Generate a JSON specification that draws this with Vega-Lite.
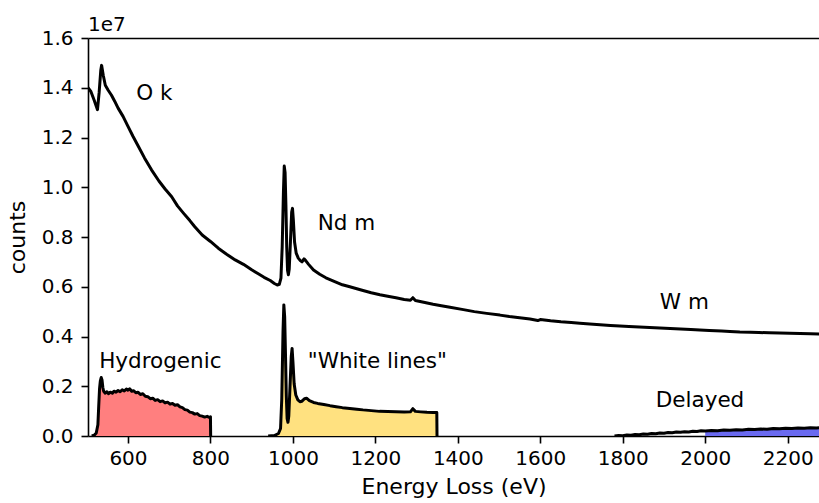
{
  "$schema": "https://vega.github.io/schema/vega-lite/v6.json",
  "width": 731,
  "height": 398,
  "autosize": {"type": "none"},
  "padding": {"left": 88, "top": 38, "right": 0, "bottom": 67},
  "background": "white",
  "config": {
    "view": {"stroke": null},
    "font": "DejaVu Sans",
    "axis": {
      "domainColor": "black", "domainWidth": 1.6,
      "tickColor": "black", "tickWidth": 1.6, "tickSize": 7,
      "labelFont": "DejaVu Sans", "labelFontSize": 20, "labelColor": "black", "labelPadding": 5,
      "titleFont": "DejaVu Sans", "titleFontSize": 22, "titleFontWeight": "normal", "titleColor": "black",
      "grid": false
    }
  },
  "title": {"text": "1e7", "anchor": "start", "frame": "group", "fontSize": 20, "fontWeight": "normal", "font": "DejaVu Sans", "color": "black", "baseline": "bottom", "offset": 2, "dy": 29},
  "datasets": {
    "spectra": [
      {"series": "spectrum", "x": 503, "y": 1.400e7},
      {"series": "spectrum", "x": 510, "y": 1.385e7},
      {"series": "spectrum", "x": 518, "y": 1.350e7},
      {"series": "spectrum", "x": 526, "y": 1.312e7},
      {"series": "spectrum", "x": 530, "y": 1.380e7},
      {"series": "spectrum", "x": 534, "y": 1.470e7},
      {"series": "spectrum", "x": 536, "y": 1.490e7},
      {"series": "spectrum", "x": 540, "y": 1.450e7},
      {"series": "spectrum", "x": 545, "y": 1.410e7},
      {"series": "spectrum", "x": 552, "y": 1.390e7},
      {"series": "spectrum", "x": 560, "y": 1.370e7},
      {"series": "spectrum", "x": 568, "y": 1.345e7},
      {"series": "spectrum", "x": 576, "y": 1.318e7},
      {"series": "spectrum", "x": 588, "y": 1.285e7},
      {"series": "spectrum", "x": 600, "y": 1.245e7},
      {"series": "spectrum", "x": 612, "y": 1.205e7},
      {"series": "spectrum", "x": 625, "y": 1.165e7},
      {"series": "spectrum", "x": 640, "y": 1.118e7},
      {"series": "spectrum", "x": 657, "y": 1.070e7},
      {"series": "spectrum", "x": 675, "y": 1.025e7},
      {"series": "spectrum", "x": 690, "y": 0.993e7},
      {"series": "spectrum", "x": 706, "y": 0.962e7},
      {"series": "spectrum", "x": 720, "y": 0.925e7},
      {"series": "spectrum", "x": 735, "y": 0.895e7},
      {"series": "spectrum", "x": 750, "y": 0.866e7},
      {"series": "spectrum", "x": 762, "y": 0.841e7},
      {"series": "spectrum", "x": 780, "y": 0.808e7},
      {"series": "spectrum", "x": 800, "y": 0.782e7},
      {"series": "spectrum", "x": 819, "y": 0.755e7},
      {"series": "spectrum", "x": 840, "y": 0.730e7},
      {"series": "spectrum", "x": 860, "y": 0.708e7},
      {"series": "spectrum", "x": 880, "y": 0.690e7},
      {"series": "spectrum", "x": 900, "y": 0.668e7},
      {"series": "spectrum", "x": 916, "y": 0.652e7},
      {"series": "spectrum", "x": 930, "y": 0.638e7},
      {"series": "spectrum", "x": 945, "y": 0.625e7},
      {"series": "spectrum", "x": 955, "y": 0.613e7},
      {"series": "spectrum", "x": 962, "y": 0.607e7},
      {"series": "spectrum", "x": 967, "y": 0.610e7},
      {"series": "spectrum", "x": 971, "y": 0.635e7},
      {"series": "spectrum", "x": 974, "y": 0.760e7},
      {"series": "spectrum", "x": 977, "y": 0.980e7},
      {"series": "spectrum", "x": 979, "y": 1.085e7},
      {"series": "spectrum", "x": 981, "y": 1.060e7},
      {"series": "spectrum", "x": 983, "y": 0.930e7},
      {"series": "spectrum", "x": 985, "y": 0.760e7},
      {"series": "spectrum", "x": 987, "y": 0.665e7},
      {"series": "spectrum", "x": 989, "y": 0.648e7},
      {"series": "spectrum", "x": 991, "y": 0.670e7},
      {"series": "spectrum", "x": 994, "y": 0.780e7},
      {"series": "spectrum", "x": 997, "y": 0.900e7},
      {"series": "spectrum", "x": 999, "y": 0.915e7},
      {"series": "spectrum", "x": 1001, "y": 0.870e7},
      {"series": "spectrum", "x": 1004, "y": 0.780e7},
      {"series": "spectrum", "x": 1008, "y": 0.735e7},
      {"series": "spectrum", "x": 1013, "y": 0.715e7},
      {"series": "spectrum", "x": 1018, "y": 0.705e7},
      {"series": "spectrum", "x": 1022, "y": 0.700e7},
      {"series": "spectrum", "x": 1027, "y": 0.712e7},
      {"series": "spectrum", "x": 1031, "y": 0.705e7},
      {"series": "spectrum", "x": 1038, "y": 0.690e7},
      {"series": "spectrum", "x": 1050, "y": 0.667e7},
      {"series": "spectrum", "x": 1065, "y": 0.650e7},
      {"series": "spectrum", "x": 1080, "y": 0.636e7},
      {"series": "spectrum", "x": 1100, "y": 0.622e7},
      {"series": "spectrum", "x": 1120, "y": 0.608e7},
      {"series": "spectrum", "x": 1138, "y": 0.600e7},
      {"series": "spectrum", "x": 1155, "y": 0.592e7},
      {"series": "spectrum", "x": 1170, "y": 0.585e7},
      {"series": "spectrum", "x": 1190, "y": 0.576e7},
      {"series": "spectrum", "x": 1211, "y": 0.568e7},
      {"series": "spectrum", "x": 1230, "y": 0.562e7},
      {"series": "spectrum", "x": 1250, "y": 0.556e7},
      {"series": "spectrum", "x": 1270, "y": 0.549e7},
      {"series": "spectrum", "x": 1285, "y": 0.546e7},
      {"series": "spectrum", "x": 1291, "y": 0.556e7},
      {"series": "spectrum", "x": 1297, "y": 0.545e7},
      {"series": "spectrum", "x": 1320, "y": 0.537e7},
      {"series": "spectrum", "x": 1340, "y": 0.530e7},
      {"series": "spectrum", "x": 1360, "y": 0.524e7},
      {"series": "spectrum", "x": 1381, "y": 0.518e7},
      {"series": "spectrum", "x": 1410, "y": 0.509e7},
      {"series": "spectrum", "x": 1440, "y": 0.500e7},
      {"series": "spectrum", "x": 1470, "y": 0.493e7},
      {"series": "spectrum", "x": 1502, "y": 0.486e7},
      {"series": "spectrum", "x": 1525, "y": 0.480e7},
      {"series": "spectrum", "x": 1550, "y": 0.475e7},
      {"series": "spectrum", "x": 1575, "y": 0.470e7},
      {"series": "spectrum", "x": 1594, "y": 0.464e7},
      {"series": "spectrum", "x": 1600, "y": 0.468e7},
      {"series": "spectrum", "x": 1625, "y": 0.463e7},
      {"series": "spectrum", "x": 1650, "y": 0.459e7},
      {"series": "spectrum", "x": 1675, "y": 0.456e7},
      {"series": "spectrum", "x": 1696, "y": 0.453e7},
      {"series": "spectrum", "x": 1720, "y": 0.450e7},
      {"series": "spectrum", "x": 1745, "y": 0.447e7},
      {"series": "spectrum", "x": 1770, "y": 0.444e7},
      {"series": "spectrum", "x": 1793, "y": 0.442e7},
      {"series": "spectrum", "x": 1815, "y": 0.440e7},
      {"series": "spectrum", "x": 1840, "y": 0.438e7},
      {"series": "spectrum", "x": 1865, "y": 0.436e7},
      {"series": "spectrum", "x": 1890, "y": 0.434e7},
      {"series": "spectrum", "x": 1915, "y": 0.432e7},
      {"series": "spectrum", "x": 1940, "y": 0.430e7},
      {"series": "spectrum", "x": 1965, "y": 0.428e7},
      {"series": "spectrum", "x": 1987, "y": 0.426e7},
      {"series": "spectrum", "x": 2010, "y": 0.424e7},
      {"series": "spectrum", "x": 2040, "y": 0.422e7},
      {"series": "spectrum", "x": 2060, "y": 0.420e7},
      {"series": "spectrum", "x": 2084, "y": 0.418e7},
      {"series": "spectrum", "x": 2110, "y": 0.417e7},
      {"series": "spectrum", "x": 2130, "y": 0.416e7},
      {"series": "spectrum", "x": 2155, "y": 0.415e7},
      {"series": "spectrum", "x": 2181, "y": 0.414e7},
      {"series": "spectrum", "x": 2205, "y": 0.413e7},
      {"series": "spectrum", "x": 2230, "y": 0.412e7},
      {"series": "spectrum", "x": 2255, "y": 0.411e7},
      {"series": "spectrum", "x": 2285, "y": 0.410e7},

      {"series": "Hydrogenic", "x": 512, "y": 0},
      {"series": "Hydrogenic", "x": 518, "y": 0.003e7},
      {"series": "Hydrogenic", "x": 523, "y": 0.012e7},
      {"series": "Hydrogenic", "x": 527, "y": 0.045e7},
      {"series": "Hydrogenic", "x": 529, "y": 0.120e7},
      {"series": "Hydrogenic", "x": 531, "y": 0.190e7},
      {"series": "Hydrogenic", "x": 533, "y": 0.222e7},
      {"series": "Hydrogenic", "x": 535, "y": 0.235e7},
      {"series": "Hydrogenic", "x": 537, "y": 0.225e7},
      {"series": "Hydrogenic", "x": 539, "y": 0.195e7},
      {"series": "Hydrogenic", "x": 541, "y": 0.180e7},
      {"series": "Hydrogenic", "x": 545, "y": 0.172e7},
      {"series": "Hydrogenic", "x": 549, "y": 0.178e7},
      {"series": "Hydrogenic", "x": 553, "y": 0.170e7},
      {"series": "Hydrogenic", "x": 557, "y": 0.176e7},
      {"series": "Hydrogenic", "x": 562, "y": 0.172e7},
      {"series": "Hydrogenic", "x": 566, "y": 0.180e7},
      {"series": "Hydrogenic", "x": 571, "y": 0.176e7},
      {"series": "Hydrogenic", "x": 576, "y": 0.183e7},
      {"series": "Hydrogenic", "x": 581, "y": 0.178e7},
      {"series": "Hydrogenic", "x": 586, "y": 0.186e7},
      {"series": "Hydrogenic", "x": 591, "y": 0.181e7},
      {"series": "Hydrogenic", "x": 596, "y": 0.189e7},
      {"series": "Hydrogenic", "x": 600, "y": 0.184e7},
      {"series": "Hydrogenic", "x": 604, "y": 0.190e7},
      {"series": "Hydrogenic", "x": 609, "y": 0.180e7},
      {"series": "Hydrogenic", "x": 614, "y": 0.182e7},
      {"series": "Hydrogenic", "x": 619, "y": 0.174e7},
      {"series": "Hydrogenic", "x": 624, "y": 0.176e7},
      {"series": "Hydrogenic", "x": 630, "y": 0.167e7},
      {"series": "Hydrogenic", "x": 636, "y": 0.170e7},
      {"series": "Hydrogenic", "x": 642, "y": 0.160e7},
      {"series": "Hydrogenic", "x": 648, "y": 0.158e7},
      {"series": "Hydrogenic", "x": 654, "y": 0.150e7},
      {"series": "Hydrogenic", "x": 660, "y": 0.152e7},
      {"series": "Hydrogenic", "x": 666, "y": 0.143e7},
      {"series": "Hydrogenic", "x": 672, "y": 0.146e7},
      {"series": "Hydrogenic", "x": 678, "y": 0.138e7},
      {"series": "Hydrogenic", "x": 684, "y": 0.141e7},
      {"series": "Hydrogenic", "x": 690, "y": 0.133e7},
      {"series": "Hydrogenic", "x": 696, "y": 0.136e7},
      {"series": "Hydrogenic", "x": 702, "y": 0.128e7},
      {"series": "Hydrogenic", "x": 708, "y": 0.131e7},
      {"series": "Hydrogenic", "x": 714, "y": 0.124e7},
      {"series": "Hydrogenic", "x": 720, "y": 0.126e7},
      {"series": "Hydrogenic", "x": 726, "y": 0.117e7},
      {"series": "Hydrogenic", "x": 732, "y": 0.114e7},
      {"series": "Hydrogenic", "x": 738, "y": 0.106e7},
      {"series": "Hydrogenic", "x": 744, "y": 0.104e7},
      {"series": "Hydrogenic", "x": 750, "y": 0.096e7},
      {"series": "Hydrogenic", "x": 756, "y": 0.094e7},
      {"series": "Hydrogenic", "x": 762, "y": 0.088e7},
      {"series": "Hydrogenic", "x": 768, "y": 0.090e7},
      {"series": "Hydrogenic", "x": 774, "y": 0.082e7},
      {"series": "Hydrogenic", "x": 780, "y": 0.080e7},
      {"series": "Hydrogenic", "x": 786, "y": 0.076e7},
      {"series": "Hydrogenic", "x": 792, "y": 0.079e7},
      {"series": "Hydrogenic", "x": 797, "y": 0.075e7},
      {"series": "Hydrogenic", "x": 800, "y": 0.077e7},
      {"series": "Hydrogenic", "x": 800.5, "y": 0},

      {"series": "White lines", "x": 940, "y": 0},
      {"series": "White lines", "x": 955, "y": 0.002e7},
      {"series": "White lines", "x": 965, "y": 0.010e7},
      {"series": "White lines", "x": 970, "y": 0.030e7},
      {"series": "White lines", "x": 973, "y": 0.150e7},
      {"series": "White lines", "x": 976, "y": 0.420e7},
      {"series": "White lines", "x": 978, "y": 0.527e7},
      {"series": "White lines", "x": 980, "y": 0.480e7},
      {"series": "White lines", "x": 982, "y": 0.330e7},
      {"series": "White lines", "x": 984, "y": 0.160e7},
      {"series": "White lines", "x": 986, "y": 0.070e7},
      {"series": "White lines", "x": 988, "y": 0.055e7},
      {"series": "White lines", "x": 990, "y": 0.080e7},
      {"series": "White lines", "x": 993, "y": 0.200e7},
      {"series": "White lines", "x": 996, "y": 0.320e7},
      {"series": "White lines", "x": 998, "y": 0.352e7},
      {"series": "White lines", "x": 1000, "y": 0.300e7},
      {"series": "White lines", "x": 1003, "y": 0.210e7},
      {"series": "White lines", "x": 1007, "y": 0.165e7},
      {"series": "White lines", "x": 1012, "y": 0.145e7},
      {"series": "White lines", "x": 1017, "y": 0.138e7},
      {"series": "White lines", "x": 1022, "y": 0.140e7},
      {"series": "White lines", "x": 1028, "y": 0.150e7},
      {"series": "White lines", "x": 1033, "y": 0.152e7},
      {"series": "White lines", "x": 1040, "y": 0.142e7},
      {"series": "White lines", "x": 1050, "y": 0.135e7},
      {"series": "White lines", "x": 1060, "y": 0.131e7},
      {"series": "White lines", "x": 1075, "y": 0.127e7},
      {"series": "White lines", "x": 1090, "y": 0.122e7},
      {"series": "White lines", "x": 1105, "y": 0.118e7},
      {"series": "White lines", "x": 1120, "y": 0.114e7},
      {"series": "White lines", "x": 1138, "y": 0.111e7},
      {"series": "White lines", "x": 1155, "y": 0.108e7},
      {"series": "White lines", "x": 1170, "y": 0.105e7},
      {"series": "White lines", "x": 1190, "y": 0.102e7},
      {"series": "White lines", "x": 1210, "y": 0.099e7},
      {"series": "White lines", "x": 1230, "y": 0.098e7},
      {"series": "White lines", "x": 1250, "y": 0.097e7},
      {"series": "White lines", "x": 1270, "y": 0.096e7},
      {"series": "White lines", "x": 1285, "y": 0.097e7},
      {"series": "White lines", "x": 1291, "y": 0.110e7},
      {"series": "White lines", "x": 1297, "y": 0.099e7},
      {"series": "White lines", "x": 1310, "y": 0.097e7},
      {"series": "White lines", "x": 1325, "y": 0.095e7},
      {"series": "White lines", "x": 1340, "y": 0.094e7},
      {"series": "White lines", "x": 1349, "y": 0.094e7},
      {"series": "White lines", "x": 1349.5, "y": 0},

      {"series": "Delayed", "x": 1780, "y": 0},
      {"series": "Delayed", "x": 1790, "y": 0.002e7},
      {"series": "Delayed", "x": 1800, "y": 0.001e7},
      {"series": "Delayed", "x": 1810, "y": 0.004e7},
      {"series": "Delayed", "x": 1820, "y": 0.003e7},
      {"series": "Delayed", "x": 1830, "y": 0.006e7},
      {"series": "Delayed", "x": 1840, "y": 0.005e7},
      {"series": "Delayed", "x": 1850, "y": 0.008e7},
      {"series": "Delayed", "x": 1860, "y": 0.007e7},
      {"series": "Delayed", "x": 1870, "y": 0.010e7},
      {"series": "Delayed", "x": 1880, "y": 0.009e7},
      {"series": "Delayed", "x": 1890, "y": 0.012e7},
      {"series": "Delayed", "x": 1900, "y": 0.011e7},
      {"series": "Delayed", "x": 1910, "y": 0.014e7},
      {"series": "Delayed", "x": 1920, "y": 0.013e7},
      {"series": "Delayed", "x": 1930, "y": 0.016e7},
      {"series": "Delayed", "x": 1940, "y": 0.015e7},
      {"series": "Delayed", "x": 1950, "y": 0.017e7},
      {"series": "Delayed", "x": 1960, "y": 0.016e7},
      {"series": "Delayed", "x": 1970, "y": 0.019e7},
      {"series": "Delayed", "x": 1980, "y": 0.018e7},
      {"series": "Delayed", "x": 1990, "y": 0.021e7},
      {"series": "Delayed", "x": 2000, "y": 0.020e7},
      {"series": "Delayed", "x": 2015, "y": 0.022e7},
      {"series": "Delayed", "x": 2030, "y": 0.021e7},
      {"series": "Delayed", "x": 2045, "y": 0.024e7},
      {"series": "Delayed", "x": 2060, "y": 0.023e7},
      {"series": "Delayed", "x": 2075, "y": 0.025e7},
      {"series": "Delayed", "x": 2090, "y": 0.024e7},
      {"series": "Delayed", "x": 2105, "y": 0.027e7},
      {"series": "Delayed", "x": 2120, "y": 0.026e7},
      {"series": "Delayed", "x": 2135, "y": 0.028e7},
      {"series": "Delayed", "x": 2150, "y": 0.027e7},
      {"series": "Delayed", "x": 2165, "y": 0.030e7},
      {"series": "Delayed", "x": 2180, "y": 0.029e7},
      {"series": "Delayed", "x": 2195, "y": 0.031e7},
      {"series": "Delayed", "x": 2210, "y": 0.030e7},
      {"series": "Delayed", "x": 2225, "y": 0.032e7},
      {"series": "Delayed", "x": 2240, "y": 0.031e7},
      {"series": "Delayed", "x": 2255, "y": 0.033e7},
      {"series": "Delayed", "x": 2270, "y": 0.032e7},
      {"series": "Delayed", "x": 2285, "y": 0.034e7}
    ],
    "labels": [
      {"label": "O k", "x": 620, "y": 1.35e7},
      {"label": "Nd m", "x": 1060, "y": 0.83e7},
      {"label": "Hydrogenic", "x": 530, "y": 0.275e7},
      {"label": "\"White lines\"", "x": 1036, "y": 0.272e7},
      {"label": "W m", "x": 1890, "y": 0.51e7},
      {"label": "Delayed", "x": 1880, "y": 0.117e7}
    ]
  },
  "layer": [
    {
      "data": {"name": "spectra"},
      "transform": [{"filter": "datum.series != 'spectrum' && (datum.series != 'Delayed' || datum.x >= 2000)"}],
      "mark": {"type": "area", "clip": true},
      "encoding": {
        "x": {"field": "x", "type": "quantitative", "scale": {"domain": [503, 2276], "nice": false, "zero": false},
              "axis": {"values": [600, 800, 1000, 1200, 1400, 1600, 1800, 2000, 2200], "format": "d", "title": "Energy Loss (eV)", "titlePadding": 8}},
        "y": {"field": "y", "type": "quantitative", "stack": null, "scale": {"domain": [0, 1.6e7], "nice": false},
              "axis": {"values": [0, 2e6, 4e6, 6e6, 8e6, 1e7, 1.2e7, 1.4e7, 1.6e7], "labelExpr": "format(datum.value/1e7, '.1f')", "title": "counts", "labelPadding": 8, "titlePadding": 12}},
        "color": {"field": "series", "type": "nominal", "scale": {"domain": ["Hydrogenic", "White lines", "Delayed"], "range": ["#ff7f7f", "#ffe180", "#6a6af0"]}, "legend": null}
      }
    },
    {
      "data": {"name": "spectra"},
      "mark": {"type": "line", "clip": true, "color": "black", "strokeWidth": 3, "strokeJoin": "round"},
      "encoding": {
        "x": {"field": "x", "type": "quantitative", "axis": null},
        "y": {"field": "y", "type": "quantitative"},
        "detail": {"field": "series", "type": "nominal"}
      }
    },
    {
      "data": {"name": "labels"},
      "mark": {"type": "text", "align": "left", "baseline": "alphabetic", "fontSize": 21.5, "font": "DejaVu Sans", "color": "black"},
      "encoding": {
        "x": {"field": "x", "type": "quantitative", "axis": null},
        "y": {"field": "y", "type": "quantitative"},
        "text": {"field": "label", "type": "nominal"}
      }
    },
    {
      "data": {"values": [{"x": 503}]},
      "mark": {"type": "rule", "opacity": 0},
      "encoding": {
        "x": {"field": "x", "type": "quantitative", "axis": {"orient": "top", "labels": false, "ticks": false, "title": null, "domain": true}}
      }
    }
  ],
  "resolve": {"axis": {"x": "independent"}}
}
